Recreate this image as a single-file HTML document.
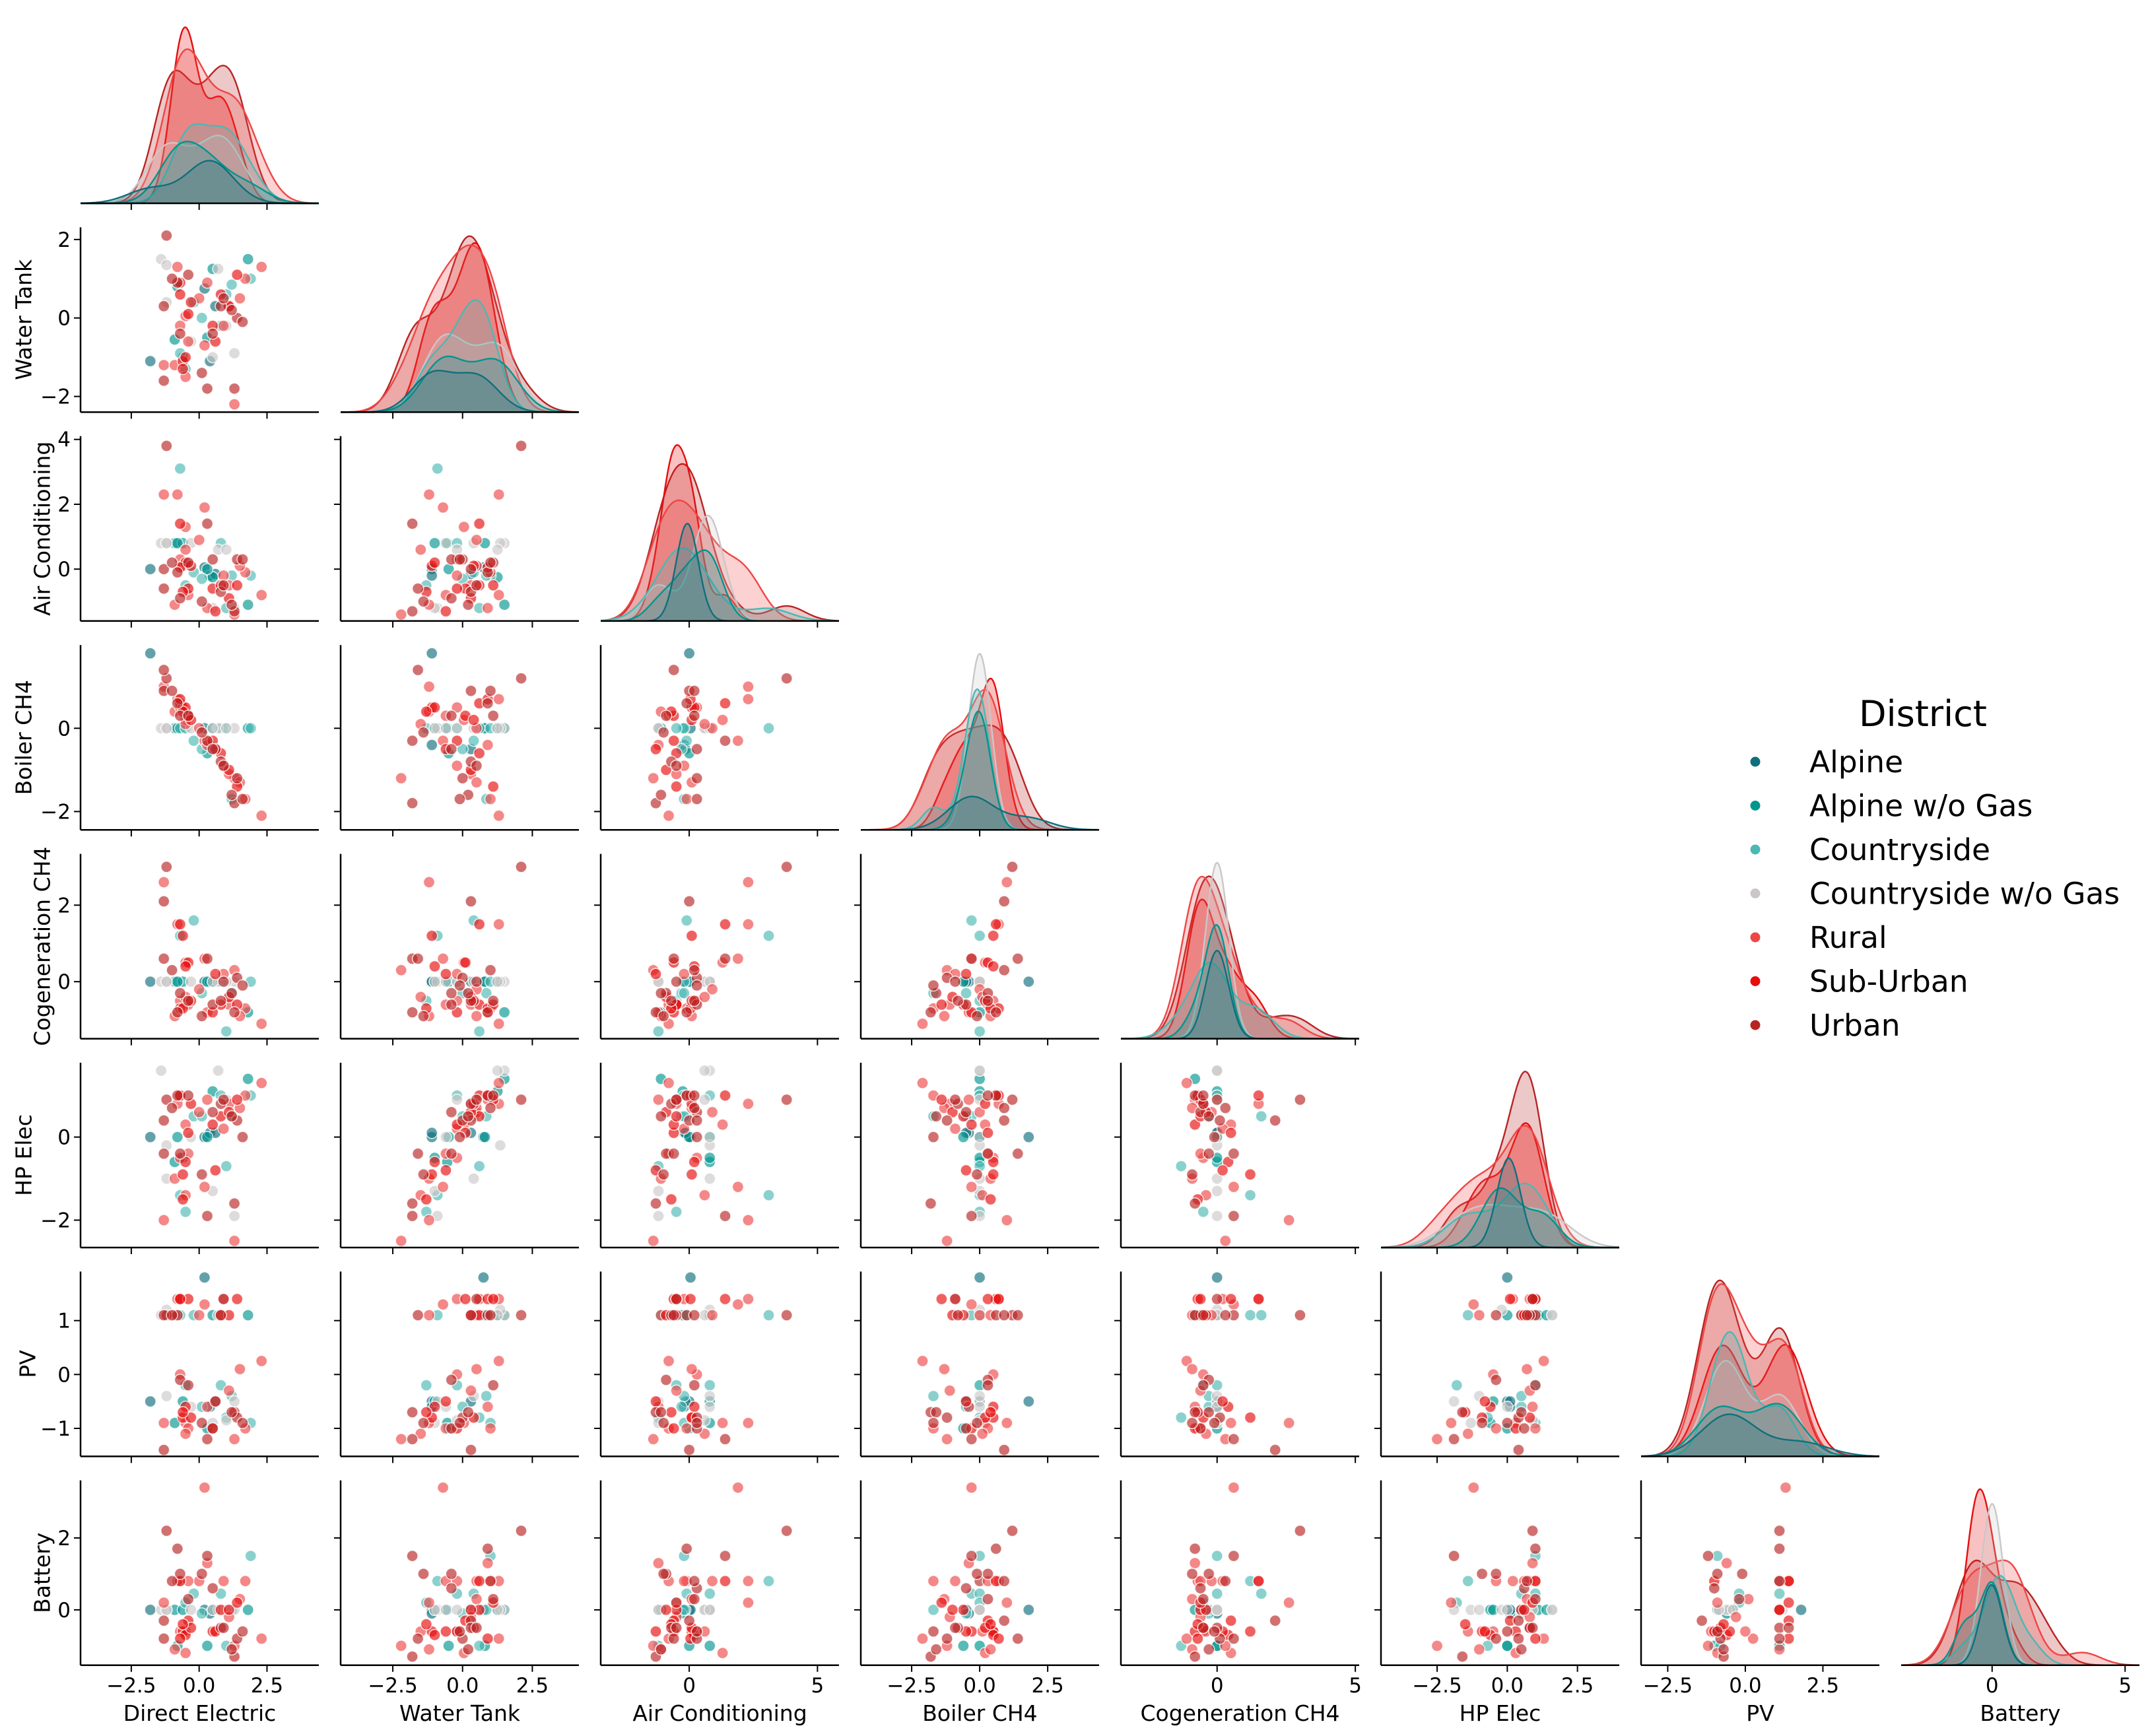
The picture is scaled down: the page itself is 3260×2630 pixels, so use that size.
<!DOCTYPE html>
<html><head><meta charset="utf-8"><style>
html,body{margin:0;padding:0;background:#fff}
svg{display:block}
text{font-family:"DejaVu Sans","Liberation Sans",sans-serif;fill:#000}
</style></head><body>
<svg id="chart" width="3260" height="2630" viewBox="0 0 3260 2630" xmlns="http://www.w3.org/2000/svg"></svg>
<script>
const variables = ["Direct Electric","Water Tank","Air Conditioning","Boiler CH4","Cogeneration CH4","HP Elec","PV","Battery"];
const districts = ["Alpine","Alpine w/o Gas","Countryside","Countryside w/o Gas","Rural","Sub-Urban","Urban"];
const district = [0,0,0,0, 1,1,1,1,1,1, 2,2,2,2,2,2,2,2, 3,3,3,3,3,3,3,3,
 4,4,4,4,4,4,4,4,4,4,4,4,4,4,4,4, 5,5,5,5,5,5,5,5,5,5,5,5, 6,6,6,6,6,6,6,6,6,6,6,6,6,6,6,6];
const directElectric = [-1.8,0.2,0.4,0.6, -0.9,0.5,-0.6,0.3,1.8,-0.8, -0.7,-0.2,0.8,1.9,-0.5,0.1,1.0,1.2, -1.4,-1.2,0.7,1.3,0.5,-0.3,1.0,-1.2,
 -1.3,-0.8,0.2,2.3,1.7,-0.5,0.0,1.3,-0.9,0.9,1.1,-0.7,0.3,-0.4,1.5,-0.5, -0.7,-0.6,-0.4,0.5,0.8,-0.5,1.1,-0.7,0.6,-0.3,1.4,-0.6,
 -1.2,-1.3,0.3,0.5,1.3,-0.8,1.4,-0.7,0.8,-1.3,1.2,-0.4,0.9,-1.0,0.1,1.6];
const waterTank = [-1.1,0.75,-1.1,0.3, -0.55,1.25,-1.0,-0.5,1.5,0.8, -0.9,0.4,-0.2,1.0,-1.3,0.0,0.6,0.85, 1.5,1.35,1.25,-0.9,-1.0,-0.6,-0.2,0.4,
 -1.2,1.3,-0.7,1.3,1.0,0.05,0.5,-2.2,-1.2,-0.2,0.3,-0.2,0.9,-0.6,0.5,-1.5, 0.6,-1.1,0.1,-0.2,0.6,-1.0,0.3,0.9,-0.6,0.4,1.1,-1.3,
 2.1,0.3,-1.8,-0.4,-1.8,0.9,0.0,-0.4,0.3,-1.6,0.2,1.1,0.5,1.0,-1.4,-0.1];
const airConditioning = [0.0,0.05,-0.2,-0.15, 0.8,-0.25,0.8,0.0,-1.1,0.8, 3.1,-0.1,0.8,-0.2,-0.5,-0.3,-1.2,-0.2, 0.8,0.8,0.6,-1.2,-1.2,0.8,0.6,0.8,
 2.3,2.3,1.9,-0.8,-0.1,1.3,0.9,-1.4,-1.1,-0.2,-0.5,0.3,-1.2,-0.8,0.1,0.6, 1.4,0.1,-0.6,-0.6,-0.5,0.2,-0.9,0.05,-1.3,0.1,-0.5,-0.7,
 3.8,0.0,1.4,0.3,-1.3,-0.1,0.3,-0.9,-0.7,-0.6,-1.1,0.2,-0.5,0.2,-1.0,0.3];
const boilerCH4 = [1.8,0.0,-0.4,-0.5, 0.0,0.0,0.0,-0.6,0.0,0.0, 0.0,-0.3,0.0,0.0,0.0,-0.5,0.0,-1.7, 0.0,0.0,0.0,0.0,0.0,0.0,0.0,0.0,
 1.0,0.7,-0.3,-2.1,-1.7,0.2,0.0,-1.2,0.4,-0.9,-1.1,0.5,-0.4,0.3,-1.3,0.1, 0.6,0.5,0.3,-0.3,-0.6,0.5,-1.0,0.7,-0.5,0.2,-1.4,0.4,
 1.2,0.9,-0.3,-0.5,-1.8,0.6,-1.2,0.3,-0.8,1.4,-1.6,0.3,-0.9,0.9,-0.1,-1.7];
const cogenerationCH4 = [0.0,0.0,0.0,0.0, 0.0,0.0,0.0,0.0,-0.8,0.0, 1.2,1.6,0.0,0.0,-0.5,-0.3,-1.3,-0.3, 0.0,0.0,0.0,0.0,0.0,0.0,0.0,0.0,
 2.6,1.5,0.6,-1.1,-0.7,0.5,-0.2,0.3,-0.9,0.2,-0.6,-0.5,-0.8,-0.6,-0.9,-0.4, 1.5,1.2,0.5,-0.8,-0.6,0.4,-0.4,-0.7,0.2,-0.5,-0.6,-0.7,
 3.0,2.1,0.6,-0.6,-0.8,-0.8,0.1,-0.3,-0.5,0.6,-0.3,-0.5,0.0,0.3,-0.9,-0.1];
const hpElec = [0.0,0.0,0.1,0.1, -0.6,1.1,-0.5,0.0,1.4,0.0, -1.4,0.5,1.0,1.0,-1.8,0.5,-0.7,0.5, 1.6,-0.2,1.6,-1.9,-1.3,0.0,0.9,-1.0,
 -2.0,0.8,-1.2,1.3,1.0,0.3,0.6,-2.5,-1.0,0.2,0.8,-0.5,0.9,-0.4,0.7,-1.4, 1.0,-0.9,0.1,0.3,0.5,-0.6,0.6,1.0,-0.8,0.8,0.9,-1.5,
 0.9,0.4,-1.9,0.6,-1.6,1.0,0.4,-0.4,0.8,-0.4,0.5,1.0,0.9,0.7,-0.9,0.0];
const pv = [-0.5,1.8,-0.6,-0.5, -0.9,1.1,-0.5,-1.0,1.1,1.1, 1.1,1.1,-0.2,-0.9,-0.2,-0.6,-0.8,-0.4, 1.1,1.2,1.1,-0.5,-0.9,-0.6,-0.85,-0.4,
 -0.9,1.4,1.3,0.25,-1.0,-0.9,1.1,-1.2,1.1,1.4,-0.3,0.0,-0.6,-1.0,0.1,-1.1, 1.4,-0.8,1.4,-1.0,1.1,-0.6,1.1,1.4,-0.5,-0.8,1.4,-0.7,
 1.1,-1.4,-1.2,-1.0,-0.7,1.1,-0.8,-0.1,1.1,1.1,-0.7,-0.2,1.4,1.1,-0.9,-0.9];
const battery = [0.0,0.0,-0.1,0.0, 0.0,0.0,0.0,-1.0,0.0,-1.0, 0.8,0.45,0.45,1.5,0.2,-0.1,-1.0,0.0, 0.0,0.0,0.0,0.0,0.0,0.0,0.0,0.0,
 0.2,0.8,3.4,-0.8,0.8,-1.2,0.8,-1.0,-1.1,0.8,-0.2,-0.6,1.3,0.8,0.3,-0.6, 0.8,-0.6,-0.3,-0.6,0.0,-0.7,0.0,-0.8,-0.6,-0.5,0.2,-0.4,
 2.2,-0.3,1.5,0.6,-1.3,1.7,-0.8,1.0,-0.5,-0.8,-1.1,0.3,-0.5,0.8,1.0,-0.6];
const series = [directElectric,waterTank,airConditioning,boilerCH4,cogenerationCH4,hpElec,pv,battery];
const xTickValues = [[-2.5,0,2.5],[-2.5,0,2.5],[0,5],[-2.5,0,2.5],[0,5],[-2.5,0,2.5],[-2.5,0,2.5],[0,5]];
const xTickLabels = [["−2.5","0.0","2.5"],["−2.5","0.0","2.5"],["0","5"],["−2.5","0.0","2.5"],["0","5"],["−2.5","0.0","2.5"],["−2.5","0.0","2.5"],["0","5"]];
const yTickValues = [[],[-2,0,2],[0,2,4],[-2,0],[0,2],[-2,0],[-1,0,1],[0,2]];
const yTickLabels = [[],["−2","0","2"],["0","2","4"],["−2","0"],["0","2"],["−2","0"],["−1","0","1"],["0","2"]];

// layout
const colors = ["#0f6f7c","#00958f","#4bb8b4","#cbc7c7","#ee4646","#e60d0d","#b82424"];
const AX_L=122, AX_PITCH=394, AX_W=361, AY_T=28, AY_PITCH=316.4, AY_H=280;
const xLim = [[-4.37,4.41],[-4.37,4.17],[-3.45,5.84],[-4.37,4.39],[-3.48,5.14],[-4.5,3.99],[-3.36,4.32],[-3.42,5.54]];
const yLim = [null,[-2.4,2.31],[-1.6,4.1],[-2.44,2.0],[-1.49,3.34],[-2.66,1.79],[-1.52,1.91],[-1.54,3.6]];
const yLabelX = [0,36,64,36,64,36,42,64];

const svg = document.getElementById('chart');
const NS = 'http://www.w3.org/2000/svg';
function mk(tag, attrs, parent){ const e=document.createElementNS(NS,tag); for(const k in attrs) e.setAttribute(k,attrs[k]); (parent||svg).appendChild(e); return e; }
function xScale(c,v){ const [a,b]=xLim[c]; return AX_L+AX_PITCH*c + (v-a)/(b-a)*AX_W; }
function yScale(r,v){ const [a,b]=yLim[r]; return AY_T+AY_PITCH*r+AY_H - (v-a)/(b-a)*AY_H; }

function kde(vals, x){
  const n=vals.length; const m=vals.reduce((s,v)=>s+v,0)/n;
  const sd=Math.sqrt(vals.reduce((s,v)=>s+(v-m)*(v-m),0)/(n-1))||0.3;
  const bw=Math.max(sd*Math.pow(n,-0.2),0.42);
  let s=0; for(const v of vals){ const z=(x-v)/bw; s+=Math.exp(-0.5*z*z); }
  return s/(n*bw*Math.sqrt(2*Math.PI));
}

for(let r=0;r<8;r++){
  for(let c=0;c<=r;c++){
    const g=mk('g',{});
    
    
    const x0=AX_L+AX_PITCH*c, y0=AY_T+AY_PITCH*r, yb=y0+AY_H;
    if(r===c){
      const N=district.length, grid=240; const curves=[]; let mx=0;
      for(let h=0;h<districts.length;h++){
        const vals=series[r].filter((v,i)=>district[i]===h); const w=vals.length/N; const pts=[];
        for(let k=0;k<=grid;k++){ const xv=xLim[c][0]+(xLim[c][1]-xLim[c][0])*k/grid; const d=kde(vals,xv)*w; pts.push([xv,d]); if(d>mx) mx=d; }
        curves.push(pts);
      }
      const top=mx*1.05;
      for(let h=districts.length-1;h>=0;h--){
        const p=curves[h].map(([xv,d])=>[xScale(c,xv), yb-d/top*AY_H]);
        const line='M'+p.map(q=>q[0].toFixed(1)+','+q[1].toFixed(1)).join('L');
        const area=mk('path',{d:line+'L'+p[p.length-1][0].toFixed(1)+','+yb+'L'+p[0][0].toFixed(1)+','+yb+'Z',fill:colors[h],'fill-opacity':0.25,stroke:'none'},g);
        
        
        const ln=mk('path',{d:line,fill:'none',stroke:colors[h],'stroke-width':2.4},g);
        
        
      }
    } else {
      for(let i=0;i<district.length;i++){
        const dot=mk('circle',{cx:xScale(c,series[c][i]).toFixed(1),cy:yScale(r,series[r][i]).toFixed(1),r:8.5,fill:colors[district[i]],'fill-opacity':0.65,stroke:'#fff','stroke-opacity':0.8,'stroke-width':1.5},g);
        
        
      }
      const ls=mk('line',{x1:x0,y1:y0,x2:x0,y2:yb,stroke:'#000','stroke-width':2.5},g);
      
      
      yTickValues[r].forEach((v,k)=>{
        const y=yScale(r,v);
        const t=mk('line',{x1:x0-10,y1:y,x2:x0,y2:y,stroke:'#000','stroke-width':2},g);
        
        
        if(c===0){
          const tl=mk('text',{x:x0-15,y:y+11,'font-size':31,'text-anchor':'end'},g); tl.textContent=yTickLabels[r][k];
          
          
        }
      });
    }
    const bs=mk('line',{x1:x0,y1:yb,x2:x0+AX_W,y2:yb,stroke:'#000','stroke-width':2.5},g);
    
    
    xTickValues[c].forEach((v,k)=>{
      const x=xScale(c,v);
      const t=mk('line',{x1:x,y1:yb,x2:x,y2:yb+10,stroke:'#000','stroke-width':2},g);
      
      
      if(r===7){
        const tl=mk('text',{x:x,y:yb+41,'font-size':31,'text-anchor':'middle'},g); tl.textContent=xTickLabels[c][k];
        
        
      }
    });
    if(r===7){
      const al=mk('text',{x:x0+AX_W/2,y:2607,'font-size':33,'text-anchor':'middle'},g); al.textContent=variables[c];
      
      
    }
    if(c===0 && r>0){
      const cy=y0+AY_H/2;
      const al=mk('text',{x:yLabelX[r],y:cy,'font-size':33,'text-anchor':'middle',transform:'rotate(-90 '+yLabelX[r]+' '+cy+')','dominant-baseline':'central'},g); al.textContent=variables[r];
      
      
    }
  }
}
// legend
const lg=mk('g',{});


const lt=mk('text',{x:2913,y:1100,'font-size':54,'text-anchor':'middle'},lg); lt.textContent='District';


districts.forEach((d,h)=>{
  const y=1154+66.5*h;
  const e=mk('g',{},lg);
  
  
  mk('circle',{cx:2659,cy:y,r:7.5,fill:colors[h]},e);
  const t=mk('text',{x:2741,y:y+16,'font-size':45.5},e); t.textContent=d;
});
</script>
</body></html>
